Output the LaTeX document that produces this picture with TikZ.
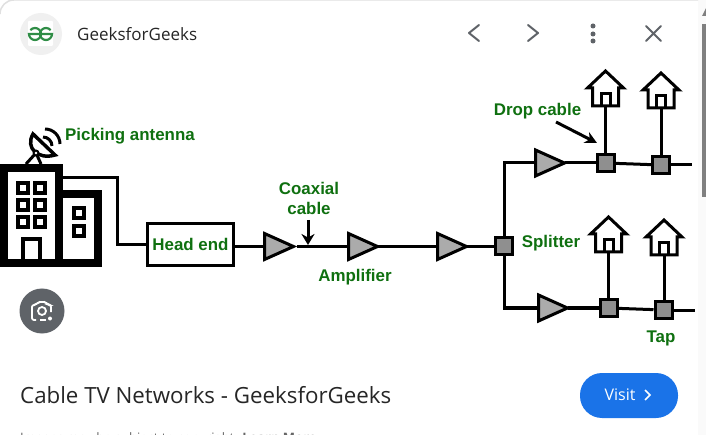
\documentclass[tikz,border=0pt]{standalone}
\usepackage{fontspec}
\setmainfont{Liberation Sans}
\newfontfamily\uifont{Open Sans}
\usetikzlibrary{positioning,shapes.geometric,arrows.meta}

\definecolor{lblgreen}{HTML}{0F7010}
\definecolor{ampgray}{HTML}{ABABAB}
\definecolor{tapgray}{HTML}{8F8F8F}
\definecolor{uigray}{HTML}{5F6368}
\definecolor{visitblue}{HTML}{1A73E8}
\definecolor{logogreen}{HTML}{2F8D46}

\tikzset{
  wire/.style={line width=3pt, line join=miter},
  lbl/.style={text=lblgreen, font=\bfseries\fontsize{16.9}{20}\selectfont, inner sep=0pt, align=center},
  ampl/.style={isosceles triangle, isosceles triangle stretches, draw, line width=3pt,
    fill=ampgray, minimum width=26pt, minimum height=29pt, inner sep=0pt, outer sep=0pt, anchor=lower side},
  tapbox/.style={rectangle, draw, line width=3pt, fill=tapgray, minimum size=17pt, inner sep=0pt},
  winbox/.style={rectangle, draw, line width=3.5pt, fill=white, minimum size=10pt, inner sep=0pt},
  wallbox/.style={rectangle, draw, line width=8pt, fill=white, inner sep=0pt},
  pics/house/.style={code={
    \draw[line width=3pt, line join=miter, fill=white] (-13,0) -- (-13,-18) -- (-18,-18) -- (0,-35) -- (18,-18) -- (13,-18) -- (13,0) -- cycle;
    \draw[line width=3pt] (-4.5,0) -- (-4.5,-12) -- (4.5,-12) -- (4.5,0);
  }},
  ctrl/.style={draw=uigray, line width=2pt, line cap=round, line join=round}
}

\begin{document}
\begin{tikzpicture}[x=1pt, y=-1pt]
  \useasboundingbox (0,0) rectangle (706,435);
  \fill[white] (0,0) rectangle (706,435);
  \fill[black!2] (698,0) rectangle (706,435);
  \draw[black!12, line width=1.5pt] (0,14) arc[start angle=180, end angle=270, radius=14] -- (698,0);

  % card header
  \node[circle, fill=black!6, minimum size=42pt, inner sep=0pt] (logo) at (41,34) {};
  \fill[white, rounded corners=1pt] (28,21) rectangle (53,46);
  \draw[logogreen, line width=2.2pt] (40,34) -- (29,34) arc[start angle=180, end angle=-140, radius=6];
  \draw[logogreen, line width=2.2pt] (41,34) -- (52,34) arc[start angle=0, end angle=320, radius=6];
  \node[right=36pt of logo.center, anchor=west, inner sep=0pt, font=\uifont\fontsize{17}{20}\selectfont, text=black!85] (site) {GeeksforGeeks};
  \coordinate (prevc) at (474,33);
  \coordinate (nextc) at (533,33);
  \draw[ctrl] ([xshift=5,yshift=-8]prevc) -- ([xshift=-5]prevc) -- ([xshift=5,yshift=8]prevc);
  \draw[ctrl] ([xshift=-5,yshift=-8]nextc) -- ([xshift=5]nextc) -- ([xshift=-5,yshift=8]nextc);
  \foreach \y in {26,34,41} \fill[uigray] (593,\y) circle (2.5);
  \draw[ctrl] (646,26) -- (661,41) (661,26) -- (646,41);

  % scroll bar at the edge
  \fill[black!50] (702,16) -- (706,8) -- (706,16) -- cycle;
  \fill[black!50] (701.5,24) rectangle (706,197);

  % building
  \node[wallbox, minimum width=52pt, minimum height=69pt] (annex) at (72,228.5) {};
  \node[wallbox, minimum width=55pt, minimum height=95pt] (bldg) at (31.5,215.5) {};
  \foreach \x in {23,40} \foreach \y in {188,205,222}
    \node[winbox] at (\x,\y) {};
  \foreach \y in {213,231}
    \node[winbox] at (79,\y) {};
  \draw[line width=4pt, fill=white] (23,259) -- (23,239.5) -- (40,239.5) -- (40,259);

  % dish
  \draw[line width=3pt] (26,164) -- (36,153) -- (41,164);
  \draw[line width=3.5pt, fill=white] (33,134) .. controls (25,148) and (38,160) .. (55,155) -- cycle;
  \fill (36,153) circle (3.5);
  \fill[white] (36,153) circle (1.3);
  \draw[line width=3pt] (43,137) arc[start angle=-90, end angle=0, radius=9];
  \draw[line width=3pt] (45,129) arc[start angle=-90, end angle=0, radius=15];
  \node[lbl, anchor=west] (antlbl) at (65,136) {Picking antenna};

  % head end and main line
  \node[rectangle, draw, line width=3pt, minimum width=86pt, minimum height=42pt, inner sep=0pt] (head) at (190.5,244.5) {};
  \node[lbl] (headlbl) at (head.center) {Head end};
  \coordinate (bldgout) at (59,178);
  \draw[wire] (bldgout) -- (117,178) -- (117,244.5) -- (head.west);

  \node[ampl] (a1) at (264.5,246.5) {};
  \node[ampl] (a2) at (348.5,246.5) {};
  \node[ampl] (a3) at (437.5,246.5) {};
  \node[tapbox] (split) at (504,246.5) {};
  \coordinate (lineb) at (297,246.5);
  \draw[wire] (head.east|-a1.lower side) -- (a1.lower side);
  \draw[wire] (lineb) -- (a2.lower side);
  \draw[wire] (a2.apex) -- (a3.lower side);
  \draw[wire] (a3.apex) -- (split);

  \node[lbl] (coaxlbl) at (309,198) {Coaxial\\cable};
  \coordinate (coaxa) at (308,220);
  \coordinate (coaxb) at (308,245);
  \draw[wire, -{Stealth[length=11pt,width=13pt]}] (coaxa) -- (coaxb);
  \node[lbl] (amplbl) at (355,277) {Amplifier};

  % upper branch
  \node[ampl] (a4) at (535.5,163) {};
  \node[tapbox] (t1) at (605.5,163) {};
  \node[tapbox] (t2) at (661,165) {};
  \coordinate (endup) at (692,165);
  \draw[wire] (split.north) -- (504,163) -- (a4.lower side);
  \draw[wire] (a4.apex) -- (t1);
  \draw[wire] (t1) -- (t2);
  \draw[wire] (t2) -- (endup);
  \coordinate (h1) at (605.5,106);
  \coordinate (h2) at (661,108);
  \pic at (h1) {house};
  \pic at (h2) {house};
  \draw[wire] (h1) -- (t1.north);
  \draw[wire] (h2) -- (t2.north);
  \node[lbl] (droplbl) at (537.5,111) {Drop cable};
  \coordinate (dropa) at (556,122);
  \coordinate (dropb) at (597,143);
  \draw[wire, -{Stealth[length=12pt,width=12pt]}] (dropa) -- (dropb);

  % lower branch
  \node[ampl] (a5) at (538.5,308) {};
  \node[tapbox] (t3) at (608.5,308) {};
  \node[tapbox] (t4) at (663.5,310) {};
  \coordinate (enddown) at (695,310);
  \draw[wire] (split.south) -- (504,308) -- (a5.lower side);
  \draw[wire] (a5.apex) -- (t3);
  \draw[wire] (t3) -- (t4);
  \draw[wire] (t4) -- (enddown);
  \coordinate (h3) at (608.5,252);
  \coordinate (h4) at (664,255);
  \pic at (h3) {house};
  \pic at (h4) {house};
  \draw[wire] (h3) -- (t3.north);
  \draw[wire] (h4) -- (t4.north-|h4);
  \node[lbl] (splitlbl) at (551,243) {Splitter};
  \node[lbl] (taplbl) at (661,338) {Tap};

  % lens button
  \node[circle, fill=uigray, minimum size=45pt, inner sep=0pt] (lens) at (42,311) {};
  \draw[white, line width=1.8pt, rounded corners=2pt] (36,320) -- (32,320) -- (32,305) -- (36,305) -- (38,302) -- (46,302) -- (48,305) -- (51,305) -- (51,312);
  \draw[white, line width=1.8pt] (46,320) -- (40,320);
  \draw[white, line width=1.8pt] (42,311) circle (4);
  \fill[white] (50,318.5) circle (2);

  % footer
  \node[anchor=base west, inner sep=0pt, font=\uifont\fontsize{22.3}{26}\selectfont, text=black!85] (title) at (20,403) {Cable TV Networks - GeeksforGeeks};
  \node[rectangle, rounded corners=22pt, fill=visitblue, minimum width=98pt, minimum height=45pt, inner sep=0pt] (visit) at (629,395.5) {};
  \node[text=white, font=\uifont\fontsize{16}{18}\selectfont, inner sep=0pt] (visitlbl) at (620,395) {Visit};
  \draw[white, line width=1.5pt] (645,390) -- (650,395) -- (645,400);
  \node[anchor=base west, inner sep=0pt, font=\uifont\fontsize{13}{15}\selectfont, text=black!60] (credit) at (20,442.5) {Images may be subject to copyright. \textbf{Learn More}};
\end{tikzpicture}
\end{document}
